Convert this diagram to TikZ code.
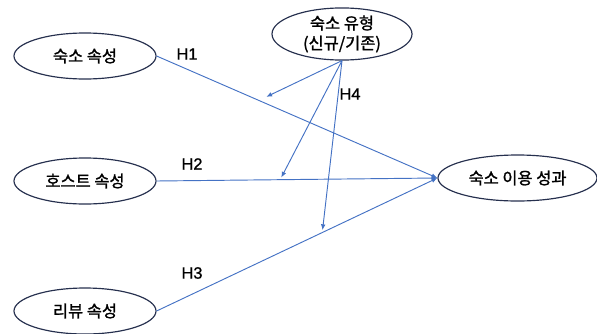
\documentclass[tikz,border=0pt]{standalone}
\usepackage{fontspec}
\setmainfont{Noto Sans CJK KR}[FakeBold=1.4]
\newfontfamily\hfont{Liberation Sans}[FakeBold=1]
\usetikzlibrary{arrows.meta,shapes.geometric}
\definecolor{linkblue}{RGB}{68,114,196}
\definecolor{rimnavy}{RGB}{38,48,78}

\begin{document}
\begin{tikzpicture}[x=0.03cm, y=-0.03cm,
    every node/.style={font=\fontsize{14pt}{17pt}\selectfont},
    construct/.style={ellipse, draw=rimnavy, line width=1pt, inner sep=0pt,
                      minimum width=4.26cm, minimum height=1.38cm},
    hlabel/.style={font=\hfont\fontsize{14pt}{17pt}\selectfont},
    link/.style={draw=linkblue, line width=0.8pt, -{Latex[length=5pt,width=4pt]}}]
        \useasboundingbox (0,0) rectangle (597,333);
        \node[construct] (lodging) at (85,56) {숙소 속성};
        \node[construct] (host) at (85,181) {호스트 속성};
        \node[construct] (review) at (85,311) {리뷰 속성};
        \node[construct, minimum width=4.2cm, minimum height=1.26cm, align=center]
          (stype) at (342,34) {숙소 유형\\(신규/기존)};
        \node[construct, minimum width=4.77cm] (outcome) at (517.5,178) {숙소 이용 성과};
        \draw[link] (lodging.east) -- coordinate[pos=0.364] (h1mid) (outcome.west);
        \draw[link] (host.east) -- coordinate[pos=0.44] (h2mid) (outcome.west);
        \draw[link] (review.east) -- coordinate[pos=0.59] (h3mid) (outcome.west);
        \draw[link, shorten >=7pt] (stype.south) -- (h1mid);
        \draw[link, shorten >=2pt] (stype.south) -- (h2mid);
        \draw[link, shorten >=2pt] (stype.south) -- (h3mid);
        \node[hlabel] (h1) at (187,54) {H1};
        \node[hlabel] (h2) at (192,164) {H2};
        \node[hlabel] (h3) at (192,273) {H3};
        \node[hlabel] (h4) at (350,94) {H4};
      \end{tikzpicture}
\end{document}
